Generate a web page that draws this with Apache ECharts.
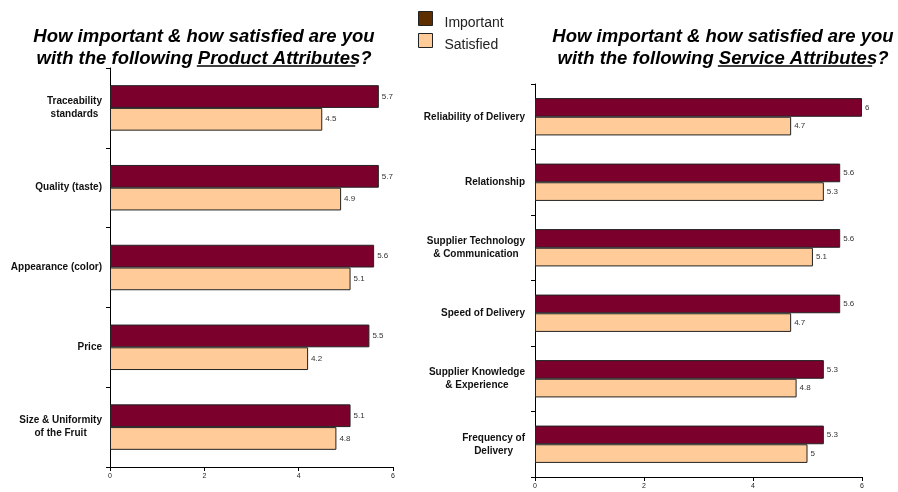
<!DOCTYPE html>
<html>
<head>
<meta charset="utf-8">
<script src="https://cdn.jsdelivr.net/npm/echarts@6/dist/echarts.min.js"></script>
<style>
  html, body { margin: 0; padding: 0; background: #fff; }
  #chart { width: 898px; height: 492px; }
</style>
</head>
<body>
<div id="chart"></div>
<script>
// product attributes (left panel)
var productCats = ["Traceability\nstandards", "Quality (taste)", "Appearance (color)", "Price", "Size & Uniformity\nof the Fruit"];
var productImportant = [5.7, 5.7, 5.6, 5.5, 5.1];
var productSatisfied = [4.5, 4.9, 5.1, 4.2, 4.8];

// service attributes (right panel)
var serviceCats = ["Reliability of Delivery", "Relationship", "Supplier Technology\n& Communication", "Speed of Delivery", "Supplier Knowledge\n& Experience", "Frequency of\nDelivery"];
var serviceImportant = [6, 5.6, 5.6, 5.6, 5.3, 5.3];
var serviceSatisfied = [4.7, 5.3, 5.1, 4.7, 4.8, 5];

var xTicks = [0, 2, 4, 6];

var FONT = "Arial, 'Liberation Sans', sans-serif";
var IMP = "#7b002c";
var SAT = "#ffcc99";
var TITLE_SIZE = 18.5;
var LEFT_CX = 199, RIGHT_CX = 718;

var chart = echarts.init(document.getElementById("chart"));

function catLabel(v) {
  // centre the lines against each other, block stays right aligned
  return v.split("\n").map(function (s) { return "{c|" + s + "}"; }).join("\n");
}

// underline under the highlighted words of a centred title line
var measureCtx = document.createElement("canvas").getContext("2d");
measureCtx.font = "italic bold " + TITLE_SIZE + "px " + FONT;
function underline(cx, y, before, word, after) {
  var full = measureCtx.measureText(before + word + after).width;
  var x1 = cx - full / 2 + measureCtx.measureText(before).width + 4;
  var x2 = cx - full / 2 + measureCtx.measureText(before + word).width;
  return { type: "line", shape: { x1: x1, y1: y, x2: x2, y2: y }, style: { stroke: "#000", lineWidth: 1.6 } };
}

function xAxisCfg(idx) {
  return {
    type: "value",
    gridIndex: idx,
    min: xTicks[0],
    max: xTicks[xTicks.length - 1],
    interval: 2,
    splitLine: { show: false },
    axisLine: { show: true, lineStyle: { color: "#000", width: 1 } },
    axisTick: { show: true, length: 4, lineStyle: { color: "#000" } },
    axisLabel: { fontSize: 7, color: "#222", fontFamily: FONT, margin: 6 }
  };
}

function yAxisCfg(idx, cats, margin) {
  return {
    type: "category",
    gridIndex: idx,
    data: cats,
    inverse: true,
    axisLine: { show: true, lineStyle: { color: "#000", width: 1 } },
    axisTick: { show: true, length: 4, lineStyle: { color: "#000" } },
    axisLabel: {
      margin: margin,
      formatter: catLabel,
      rich: {
        c: { align: "center", fontSize: 10, fontWeight: "bold", color: "#111", fontFamily: FONT, lineHeight: 13 }
      }
    }
  };
}

function barSeries(name, data, idx, color) {
  return {
    name: name,
    type: "bar",
    xAxisIndex: idx,
    yAxisIndex: idx,
    data: data,
    barGap: "0%",
    barCategoryGap: "43%",
    itemStyle: { color: color, borderColor: "#222", borderWidth: 1 },
    label: { show: true, position: "right", distance: 3, fontSize: 8, color: "#333", fontFamily: FONT },
    animation: false
  };
}

var titleStyle = { fontSize: TITLE_SIZE, fontWeight: "bold", fontStyle: "italic", color: "#000", fontFamily: FONT, lineHeight: 22 };

chart.setOption({
  animation: false,
  title: [
    {
      text: "How important & how satisfied are you\nwith the following Product Attributes?",
      left: LEFT_CX, top: 21, padding: 5, textAlign: "center", textStyle: titleStyle
    },
    {
      text: "How important & how satisfied are you\nwith the following Service Attributes?",
      left: RIGHT_CX, top: 21, padding: 5, textAlign: "center", textStyle: titleStyle
    }
  ],
  legend: {
    orient: "vertical",
    left: 413,
    top: 6,
    icon: "rect",
    itemWidth: 14,
    itemHeight: 14,
    itemGap: 3,
    formatter: function (name) { return "{t|" + name + "}"; },
    textStyle: {
      rich: {
        t: { fontSize: 14, color: "#222", fontFamily: FONT, padding: [9, 0, 0, 7] }
      }
    },
    data: [
      { name: "Important", itemStyle: { color: "#5c2e00", borderColor: "#222", borderWidth: 1 } },
      { name: "Satisfied", itemStyle: { color: SAT, borderColor: "#222", borderWidth: 1 } }
    ]
  },
  graphic: [
    underline(LEFT_CX, 66, "with the following ", "Product Attributes", "?"),
    underline(RIGHT_CX, 66, "with the following ", "Service Attributes", "?")
  ],
  grid: [
    { left: 110, top: 68, width: 283, bottom: 25 },
    { left: 535, top: 84, width: 327, bottom: 15 }
  ],
  xAxis: [xAxisCfg(0), xAxisCfg(1)],
  yAxis: [yAxisCfg(0, productCats, 8), yAxisCfg(1, serviceCats, 10)],
  series: [
    barSeries("Important", productImportant, 0, IMP),
    barSeries("Satisfied", productSatisfied, 0, SAT),
    barSeries("Important", serviceImportant, 1, IMP),
    barSeries("Satisfied", serviceSatisfied, 1, SAT)
  ]
});
</script>
</body>
</html>
